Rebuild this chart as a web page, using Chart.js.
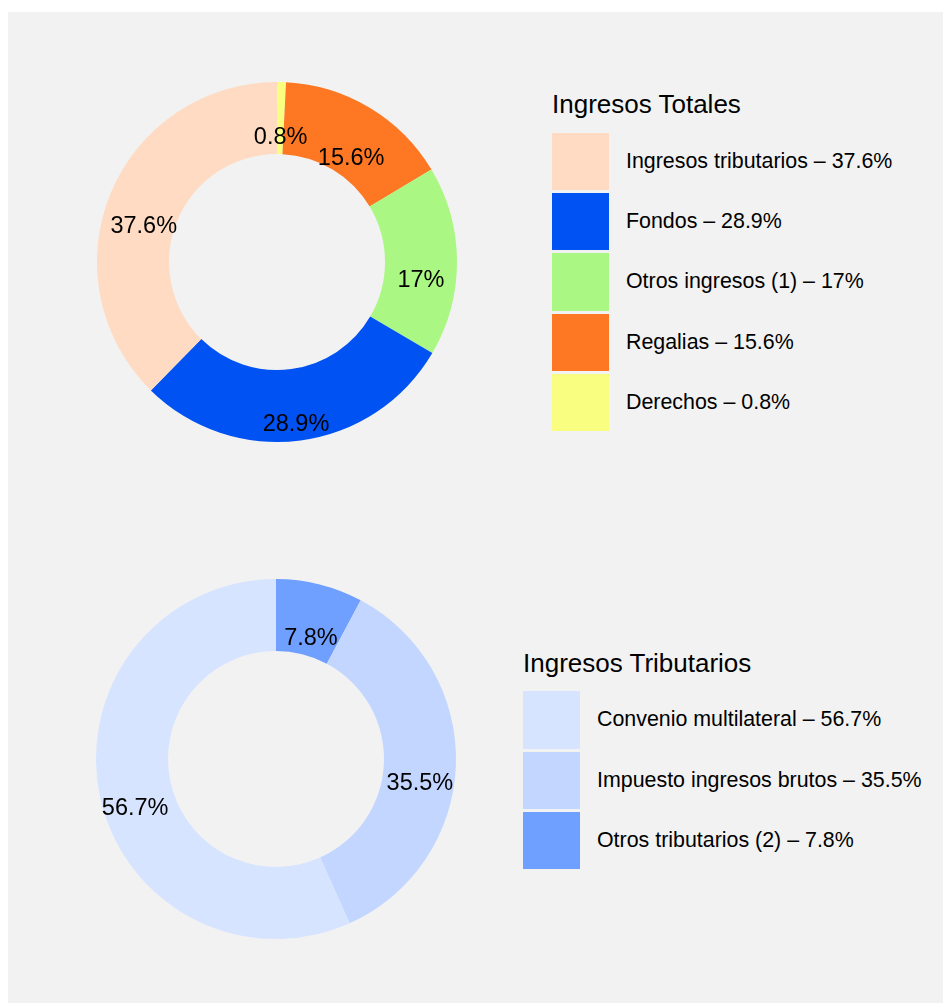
<!DOCTYPE html>
<html>
<head>
<meta charset="utf-8">
<script src="https://cdn.jsdelivr.net/npm/chart.js@4/dist/chart.umd.min.js"></script>
<style>
  body { margin: 0; background: #fff; font-family: "Liberation Sans", Arial, sans-serif; }
  #panel { position: absolute; left: 8px; top: 12px; width: 935px; height: 991px; background: #F2F2F2; }
  .donut { position: absolute; width: 400px; height: 400px; }
  .legend { position: absolute; color: #000; }
  .legend .title { font-size: 26px; line-height: 26px; margin-bottom: 15.6px; white-space: nowrap; }
  .legend .item { display: flex; align-items: center; margin-bottom: 3px; }
  .legend .box { width: 57.3px; height: 57.3px; margin-right: 16.7px; }
  .legend .lbl { font-size: 21.4px; line-height: 21.4px; white-space: nowrap; }
</style>
</head>
<body>
<div id="panel"></div>
<canvas id="donut1" class="donut" style="left:76.5px; top:61.5px;"></canvas>
<div id="legend1" class="legend" style="left:552px; top:91.3px;"></div>
<canvas id="donut2" class="donut" style="left:76.3px; top:559.3px;"></canvas>
<div id="legend2" class="legend" style="left:523px; top:649.7px;"></div>
<script>
// Ingresos Totales (legend order)
const totalCategories = ['Ingresos tributarios', 'Fondos', 'Otros ingresos (1)', 'Regalias', 'Derechos'];
const totalValues = [37.6, 28.9, 17, 15.6, 0.8];
const totalColors = ['#FEDBC2', '#0052F2', '#ABF784', '#FE7722', '#F9FE80'];

// Ingresos Tributarios (legend order)
const tribCategories = ['Convenio multilateral', 'Impuesto ingresos brutos', 'Otros tributarios (2)'];
const tribValues = [56.7, 35.5, 7.8];
const tribColors = ['#D7E4FF', '#C3D6FF', '#70A0FF'];

const FONT = '"Liberation Sans", Arial, sans-serif';

// labels in the middle of the ring (slightly below, like the original)
const sliceLabels = {
    id: 'sliceLabels',
    afterDatasetsDraw(chart) {
        const ctx = chart.ctx;
        const meta = chart.getDatasetMeta(0);
        const vals = chart.data.datasets[0].data;
        ctx.save();
        ctx.font = '23.5px ' + FONT;
        ctx.fillStyle = '#000';
        ctx.textAlign = 'center';
        ctx.textBaseline = 'alphabetic';
        meta.data.forEach((arc, i) => {
            const p = arc.tooltipPosition();
            ctx.fillText(vals[i] + '%', p.x, p.y + 26);
        });
        ctx.restore();
    }
};

function makeDonut(canvasId, cats, vals, colors) {
    // ggplot draws them clockwise from the last legend entry
    const c = cats.slice().reverse();
    const v = vals.slice().reverse();
    const col = colors.slice().reverse();
    return new Chart(document.getElementById(canvasId), {
        type: 'doughnut',
        data: {
            labels: c,
            datasets: [{
                data: v,
                backgroundColor: col,
                borderWidth: 0,
                hoverOffset: 0
            }]
        },
        options: {
            responsive: false,
            animation: false,
            cutout: '60%',
            layout: { padding: 20 },
            plugins: {
                legend: { display: false },
                tooltip: { enabled: false }
            }
        },
        plugins: [sliceLabels]
    });
}

function makeLegend(divId, title, cats, vals, colors) {
    const el = document.getElementById(divId);
    let html = '<div class="title">' + title + '</div>';
    for (let i = 0; i < cats.length; i++) {
        html += '<div class="item"><div class="box" style="background:' + colors[i] + '"></div>' +
            '<div class="lbl">' + cats[i] + ' \u2013 ' + vals[i] + '%</div></div>';
    }
    el.innerHTML = html;
}

document.getElementById('donut1').width = 400;
document.getElementById('donut1').height = 400;
document.getElementById('donut2').width = 400;
document.getElementById('donut2').height = 400;

makeDonut('donut1', totalCategories, totalValues, totalColors);
makeDonut('donut2', tribCategories, tribValues, tribColors);
makeLegend('legend1', 'Ingresos Totales', totalCategories, totalValues, totalColors);
makeLegend('legend2', 'Ingresos Tributarios', tribCategories, tribValues, tribColors);
</script>
</body>
</html>
